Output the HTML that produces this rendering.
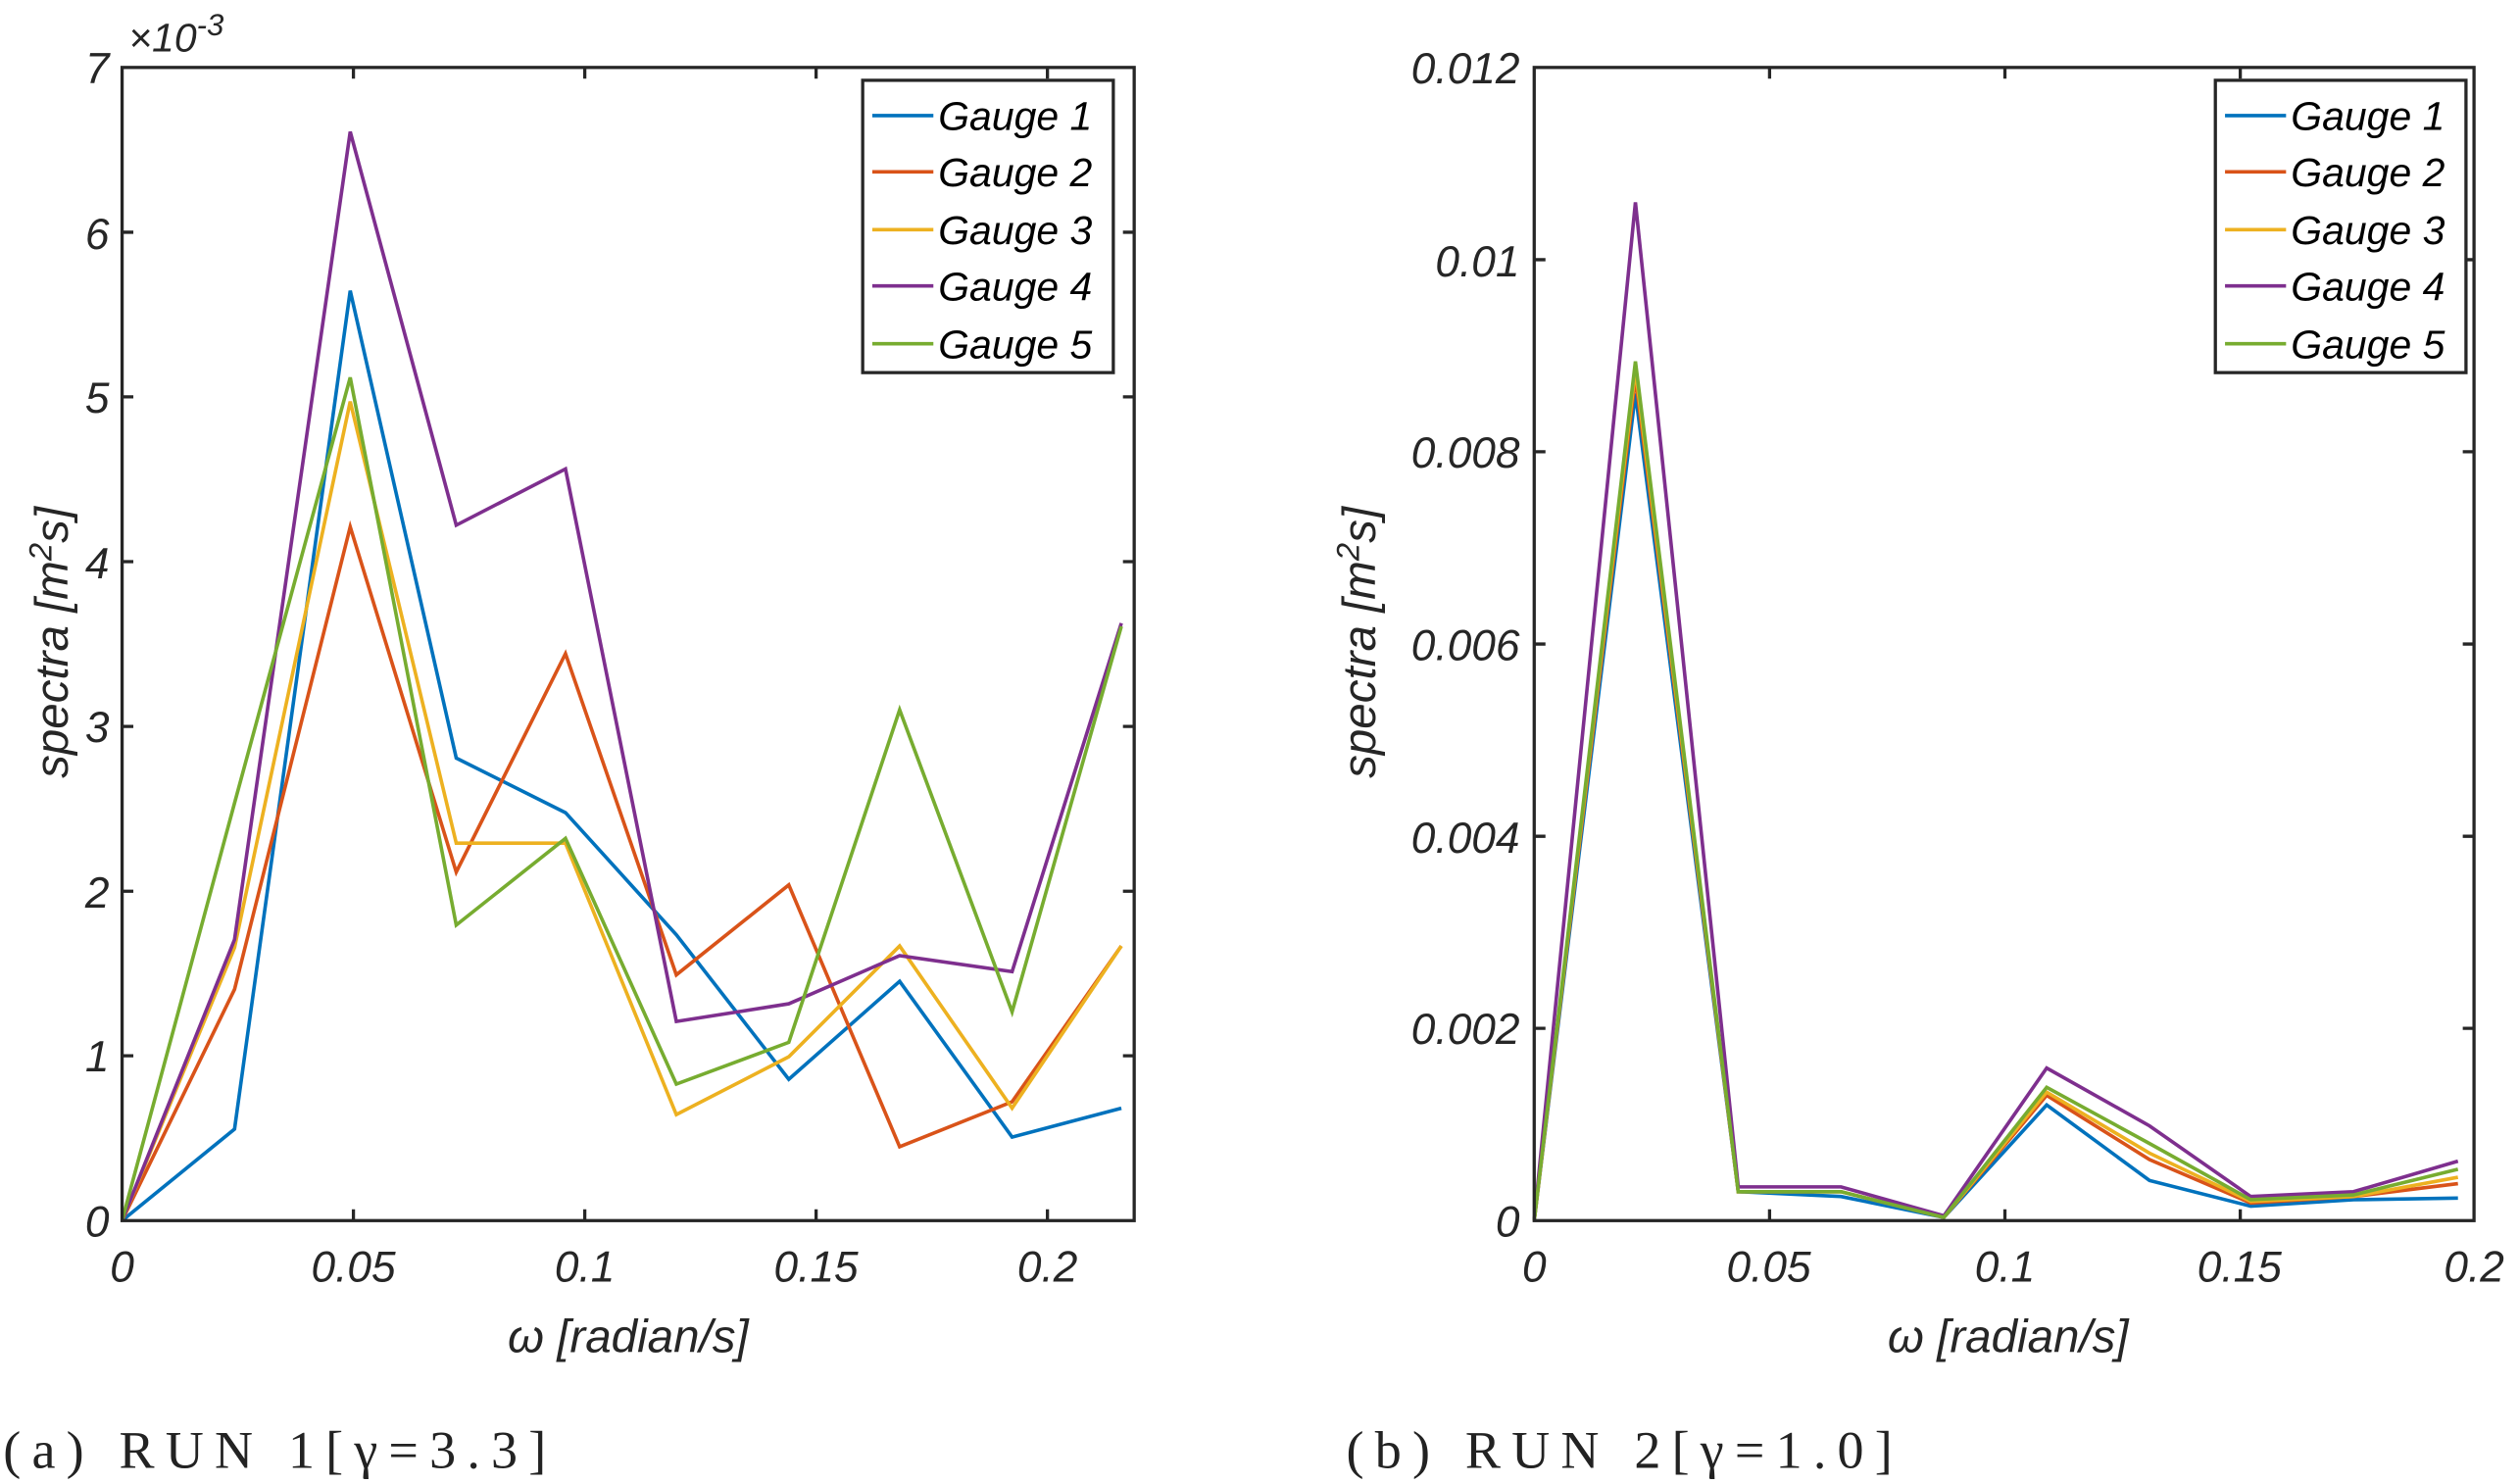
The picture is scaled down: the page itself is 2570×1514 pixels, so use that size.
<!DOCTYPE html>
<html><head><meta charset="utf-8"><style>html,body{margin:0;padding:0;background:#fff}svg{display:block}</style></head><body>
<svg width="2570" height="1514" viewBox="0 0 1568 924" preserveAspectRatio="none" xmlns="http://www.w3.org/2000/svg" font-family="Liberation Sans, sans-serif">
<g fill="none" stroke-width="2.2">
<polyline stroke="#0072BD" points="76,760 146,703 218,181 284,472 352,506 421,582 491,672 560,611 630,708 698,690"/>
<polyline stroke="#D95319" points="76,760 146,616 218,328 284,543 352,407 421,607 491,551 560,714 630,686 698,589"/>
<polyline stroke="#EDB120" points="76,760 146,590 218,250 284,525 352,525 421,694 491,658 560,589 630,690 698,589"/>
<polyline stroke="#7E2F8E" points="76,760 146,585 218,82 284,327 352,292 421,636 491,625 560,595 630,605 698,388"/>
<polyline stroke="#77AC30" points="76,760 146,500 218,235 284,576 352,522 421,675 491,649 560,442 630,630 698,390"/>
<polyline stroke="#0072BD" points="955,760 1018,245 1082,742 1146,745 1210,758 1274,688 1338,735 1401,751 1465,747 1530,746"/>
<polyline stroke="#D95319" points="955,760 1018,235 1082,742 1146,742 1210,758 1274,682 1338,722 1401,749 1465,745 1530,737"/>
<polyline stroke="#EDB120" points="955,760 1018,230 1082,742 1146,742 1210,758 1274,680 1338,718 1401,748 1465,745 1530,733"/>
<polyline stroke="#7E2F8E" points="955,760 1018,126 1082,739 1146,739 1210,757 1274,665 1338,701 1401,745 1465,742 1530,723"/>
<polyline stroke="#77AC30" points="955,760 1018,225 1082,742 1146,742 1210,758 1274,677 1338,712 1401,747 1465,744 1530,728"/>
</g>
<g stroke="#262626" stroke-width="2" fill="none">
<rect x="76" y="42" width="630" height="718"/>
<rect x="955" y="42" width="585" height="718"/>
<path d="M220,760v-7M364,760v-7M508,760v-7M652,760v-7M220,42v7M364,42v7M508,42v7M652,42v7
M76,657.4h7M76,554.9h7M76,452.3h7M76,349.7h7M76,247.1h7M76,144.6h7M706,657.4h-7M706,554.9h-7M706,452.3h-7M706,349.7h-7M706,247.1h-7M706,144.6h-7
M1101.5,760v-7M1248,760v-7M1394.5,760v-7M1101.5,42v7M1248,42v7M1394.5,42v7
M955,640.3h7M955,520.7h7M955,401h7M955,281.3h7M955,161.7h7M1540,640.3h-7M1540,520.7h-7M1540,401h-7M1540,281.3h-7M1540,161.7h-7"/>
</g>
<g font-size="27" font-style="italic" fill="#262626">
<g text-anchor="end">
<text x="68" y="770">0</text><text x="68" y="667">1</text><text x="68" y="565">2</text><text x="68" y="462">3</text><text x="68" y="360">4</text><text x="68" y="257">5</text><text x="68" y="155">6</text><text x="68" y="52">7</text>
<text x="946" y="770">0</text><text x="946" y="650">0.002</text><text x="946" y="531">0.004</text><text x="946" y="411">0.006</text><text x="946" y="291">0.008</text><text x="946" y="172">0.01</text><text x="946" y="52">0.012</text>
</g>
<g text-anchor="middle">
<text x="76" y="798">0</text><text x="220" y="798">0.05</text><text x="364" y="798">0.1</text><text x="508" y="798">0.15</text><text x="652" y="798">0.2</text>
<text x="955" y="798">0</text><text x="1101" y="798">0.05</text><text x="1248" y="798">0.1</text><text x="1394" y="798">0.15</text><text x="1540" y="798">0.2</text>
<text x="391" y="842" font-size="29">ω [radian/s]</text>
<text x="1250" y="842" font-size="29">ω [radian/s]</text>
</g>
<text x="80" y="32" font-size="25">×10<tspan dy="-10" font-size="19">-3</tspan></text>
<text transform="translate(42,400) rotate(-90)" text-anchor="middle" font-size="29">spectra [m<tspan dy="-10" font-size="20">2</tspan><tspan dy="10">s]</tspan></text>
<text transform="translate(856,400) rotate(-90)" text-anchor="middle" font-size="29">spectra [m<tspan dy="-10" font-size="20">2</tspan><tspan dy="10">s]</tspan></text>
</g>
<g>
<rect x="537" y="50" width="156" height="182" fill="#fff" stroke="#262626" stroke-width="2"/>
<rect x="1379" y="50" width="156" height="182" fill="#fff" stroke="#262626" stroke-width="2"/>
<g stroke-width="2.2">
<line x1="543" x2="581" y1="72" y2="72" stroke="#0072BD"/><line x1="543" x2="581" y1="107" y2="107" stroke="#D95319"/><line x1="543" x2="581" y1="143" y2="143" stroke="#EDB120"/><line x1="543" x2="581" y1="178" y2="178" stroke="#7E2F8E"/><line x1="543" x2="581" y1="214" y2="214" stroke="#77AC30"/>
<line x1="1385" x2="1423" y1="72" y2="72" stroke="#0072BD"/><line x1="1385" x2="1423" y1="107" y2="107" stroke="#D95319"/><line x1="1385" x2="1423" y1="143" y2="143" stroke="#EDB120"/><line x1="1385" x2="1423" y1="178" y2="178" stroke="#7E2F8E"/><line x1="1385" x2="1423" y1="214" y2="214" stroke="#77AC30"/>
</g>
<g font-size="25" font-style="italic" fill="#000">
<text x="584" y="81">Gauge 1</text><text x="584" y="116">Gauge 2</text><text x="584" y="152">Gauge 3</text><text x="584" y="187">Gauge 4</text><text x="584" y="223">Gauge 5</text>
<text x="1426" y="81">Gauge 1</text><text x="1426" y="116">Gauge 2</text><text x="1426" y="152">Gauge 3</text><text x="1426" y="187">Gauge 4</text><text x="1426" y="223">Gauge 5</text>
</g>
</g>
<g font-family="Liberation Serif, serif" font-size="33" fill="#222">
<text x="2" y="914" textLength="338" lengthAdjust="spacing">(a) RUN 1[γ=3.3]</text>
<text x="838" y="914" textLength="340" lengthAdjust="spacing">(b) RUN 2[γ=1.0]</text>
</g>
</svg>
</body></html>
